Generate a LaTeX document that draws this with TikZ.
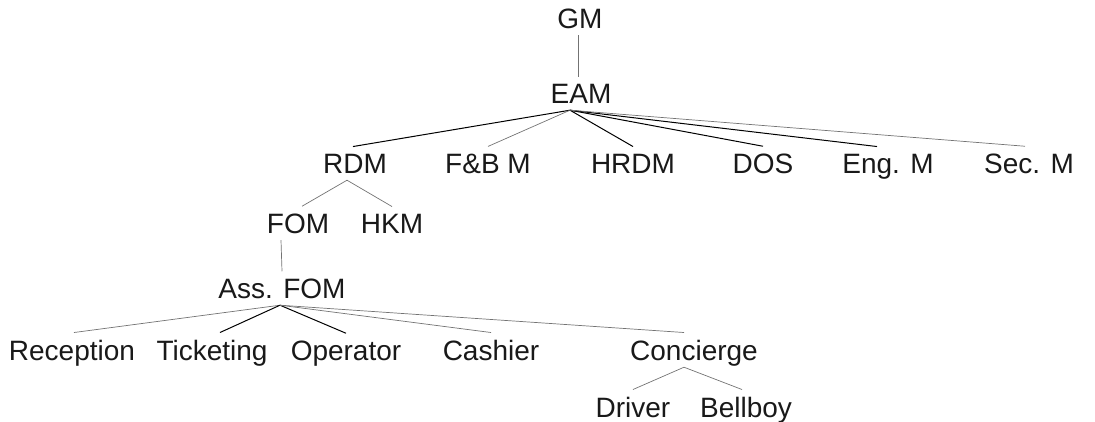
\documentclass[tikz,border=0pt]{standalone}
\usepackage{fontspec}
\setmainfont{Liberation Sans}
\usepackage{tikz}

\begin{document}
\begin{tikzpicture}[x=1pt,y=-1pt,
		post/.style={font=\fontsize{28}{31}\selectfont, anchor=base, inner ysep=7pt, text depth=0pt, text=black!90},
		blk/.style={line width=1pt, black},
		gry/.style={line width=0.7pt, black!55}]
						\useasboundingbox (0,0) rectangle (1095,421);

						% top
						\node[post] (gm) at (580,28) {GM};
						\node[post] (eam) at (581,103) {EAM};

						% managers
						\node[post] (rdm) at (355,173) {RDM};
						\node[post] (fbm) at (488,173) {F\&B M};
						\node[post] (hrdm) at (633,173) {HRDM};
						\node[post] (dos) at (763,173) {DOS};
						\node[post] (engm) at (888,173) {Eng. M};
						\node[post] (secm) at (1029,173) {Sec. M};

						% rooms division
						\node[post] (fom) at (298,233) {FOM};
						\node[post] (hkm) at (392,233) {HKM};
						\node[post] (assfom) at (282,298) {Ass. FOM};

						% front office
						\node[post] (recep) at (72,360) {Reception};
						\node[post] (ticket) at (212,360) {Ticketing};
						\node[post] (oper) at (346,360) {Operator};
						\node[post] (cash) at (491,360) {Cashier};
						\node[post] (conc) at (694,360) {Concierge};
						\node[post] (driver) at (633,417) {Driver};
						\node[post] (bellboy) at (746,417) {Bellboy};

						\draw[gry] ([xshift=-2pt]gm.south) -- ([xshift=-3pt]eam.north);

						\draw[blk] ([xshift=-11pt]eam.south) -- ([xshift=-2pt]rdm.north);
						\draw[gry] ([xshift=-11pt]eam.south) -- (fbm.north);
						\draw[blk] ([xshift=-11pt]eam.south) -- (hrdm.north);
						\draw[blk] ([xshift=-11pt]eam.south) -- (dos.north);
						\draw[blk] ([xshift=-11pt]eam.south) -- ([xshift=-11pt]engm.north);
						\draw[gry] ([xshift=-11pt]eam.south) -- ([xshift=-4pt]secm.north);

						\draw[gry] ([xshift=-8pt]rdm.south) -- ([xshift=4pt]fom.north);
						\draw[gry] ([xshift=-8pt]rdm.south) -- (hkm.north);
						\draw[gry] ([xshift=-17pt]fom.south) -- (assfom.north);

						\draw[gry] ([xshift=-2pt]assfom.south) -- ([xshift=2pt]recep.north);
						\draw[blk] ([xshift=-2pt]assfom.south) -- ([xshift=8pt]ticket.north);
						\draw[blk] ([xshift=-2pt]assfom.south) -- (oper.north);
						\draw[gry] ([xshift=-2pt]assfom.south) -- (cash.north);
						\draw[gry] ([xshift=-2pt]assfom.south) -- ([xshift=-10pt]conc.north);

						\draw[gry] ([xshift=-10pt]conc.south) -- (driver.north);
						\draw[gry] ([xshift=-10pt]conc.south) -- ([xshift=-4pt]bellboy.north);
					\end{tikzpicture}
\end{document}
